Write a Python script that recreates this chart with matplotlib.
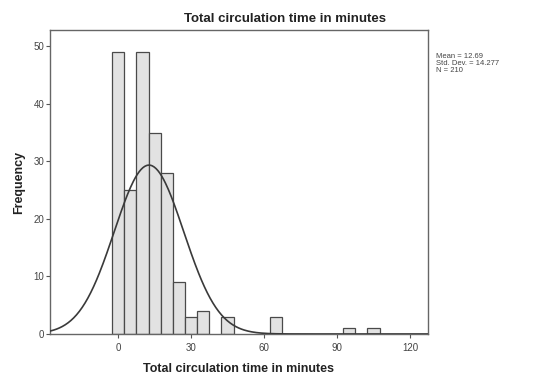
import matplotlib.pyplot as plt
import numpy as np

plt.rcParams['font.family'] = ['Liberation Sans', 'DejaVu Sans']

# histogram bins (centres in minutes) and frequencies
bin_centers = [0, 5, 10, 15, 20, 25, 30, 35, 40, 45, 50, 55, 60, 65,
               70, 75, 80, 85, 90, 95, 100, 105]
counts = [49, 25, 49, 35, 28, 9, 3, 4, 0, 3, 0, 0, 0, 3,
          0, 0, 0, 0, 0, 1, 0, 1]
bin_width = 5

mean = 12.69
std_dev = 14.277
n = 210

x_ticks = [0, 30, 60, 90, 120]
y_ticks = [0, 10, 20, 30, 40, 50]

fig = plt.figure(figsize=(5.58, 3.81), dpi=100)
ax = fig.add_axes([0.0896, 0.1234, 0.6774, 0.7976])

edge = '#4a4a4a'
centers = np.array(bin_centers)
heights = np.array(counts)
keep = heights > 0
ax.bar(centers[keep], heights[keep], width=bin_width, color='#e2e2e2',
       edgecolor=edge, linewidth=0.9, zorder=2)

xmin, xmax = -28, 127.4
xs = np.linspace(xmin, xmax, 400)
pdf = n * bin_width / (std_dev * np.sqrt(2 * np.pi)) * \
    np.exp(-0.5 * ((xs - mean) / std_dev) ** 2)
ax.plot(xs, pdf, color='#3a3a3a', linewidth=1.2, zorder=3)

ax.set_xlim(xmin, xmax)
ax.set_ylim(0, 52.8)
ax.set_xticks(x_ticks)
ax.set_yticks(y_ticks)
ax.tick_params(axis='both', direction='out', length=3, width=0.8,
               colors='#555555', labelsize=7, labelcolor='#444444')
ax.tick_params(axis='y', pad=1)

for side in ax.spines.values():
    side.set_color('#666666')
    side.set_linewidth(1.0)

ax.set_xlabel('Total circulation time in minutes', fontsize=9,
              fontweight='bold', color='#222222', labelpad=7)
ax.set_ylabel('Frequency', fontsize=9, fontweight='bold',
              color='#222222', labelpad=6)

fig.text(0.51, 0.951, 'Total circulation time in minutes', ha='center',
         va='center', fontsize=9.5, fontweight='bold', color='#222222')

fig.text(0.782, 0.86,
         'Mean = %.2f\nStd. Dev. = %.3f\nN = %d' % (mean, std_dev, n),
         ha='left', va='top', fontsize=5.5, color='#444444',
         linespacing=1.0)

fig.savefig('out.png', dpi=100)
